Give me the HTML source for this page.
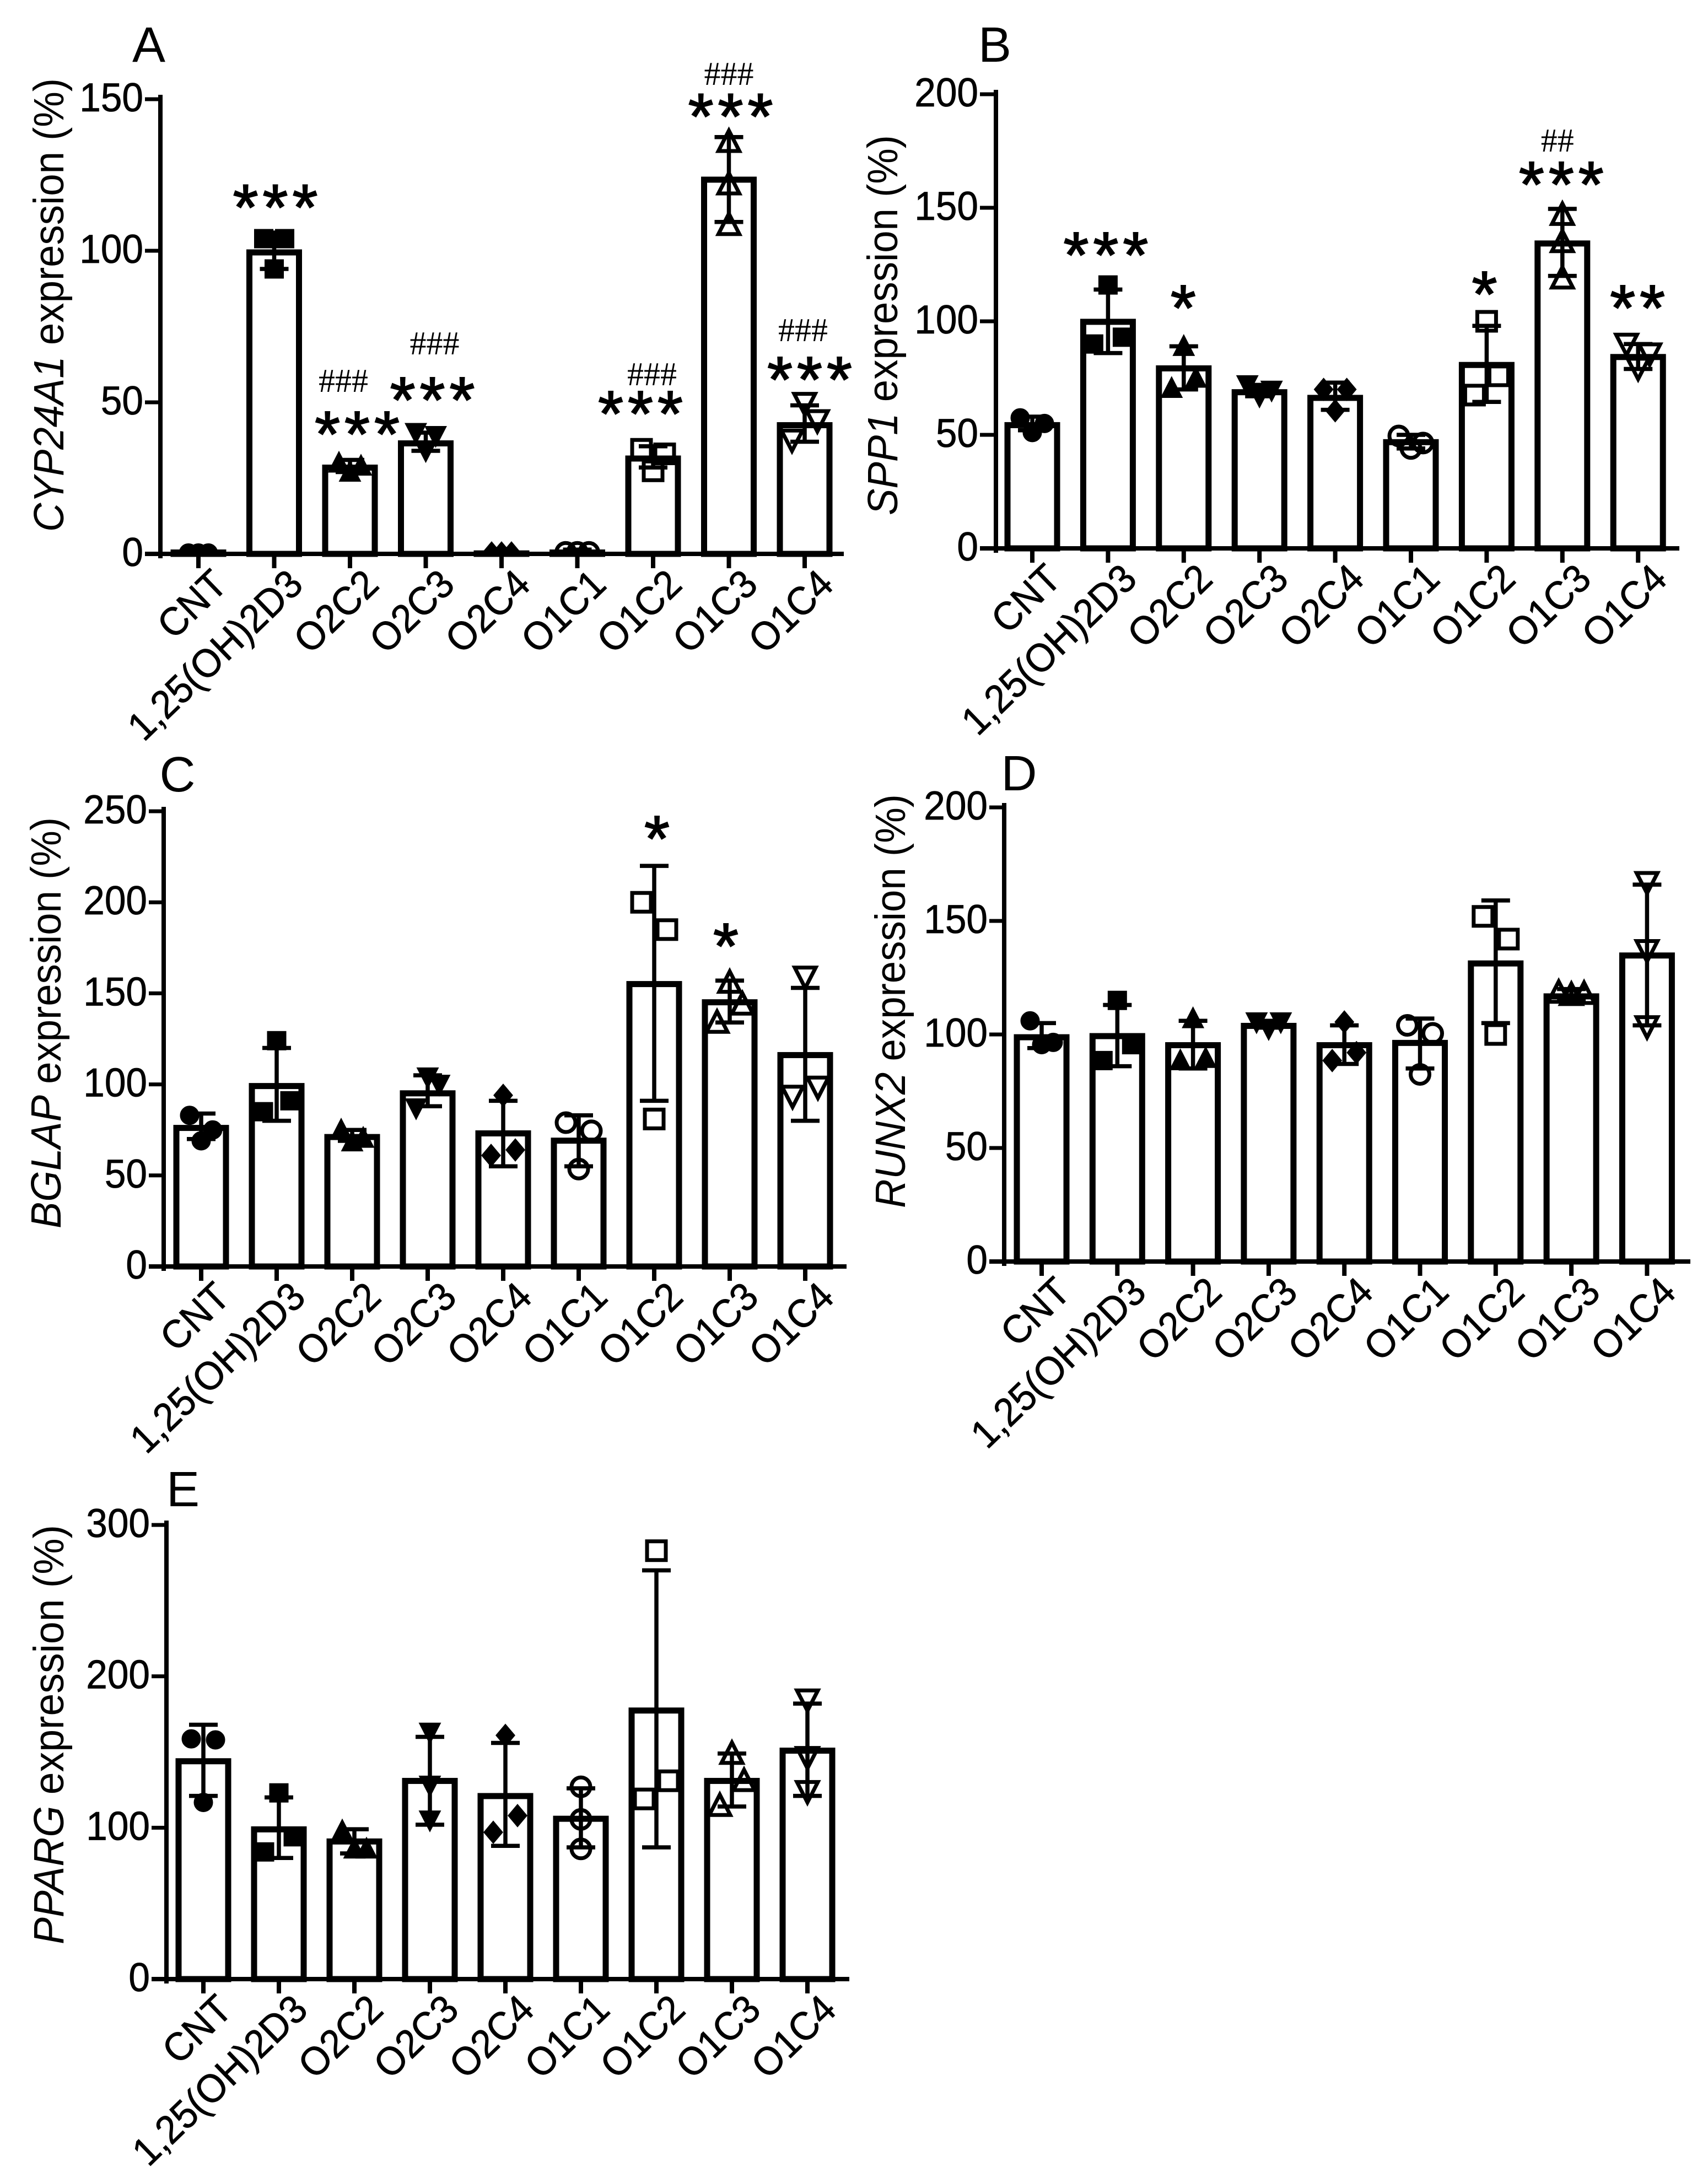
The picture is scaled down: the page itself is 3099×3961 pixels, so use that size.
<!DOCTYPE html>
<html>
<head>
<meta charset="utf-8">
<title>Gene expression bar charts</title>
<style>
html,body{margin:0;padding:0;background:#fff;}
svg{display:block;}
text{font-family:"Liberation Sans",sans-serif;fill:#000;}
</style>
</head>
<body>
<svg id="figure" xmlns="http://www.w3.org/2000/svg" width="3099" height="3961" viewBox="0 0 3099 3961">
<defs id="clips"></defs>
</svg>
<script>
const categories = ['CNT','1,25(OH)2D3','O2C2','O2C3','O2C4','O1C1','O1C2','O1C3','O1C4'];

const aTicks = [0,50,100,150];
const aMeans = [1,100,29,37,0.7,1,32,124,43];
const aErrLow = [0.7,94,27,34,0.4,0.8,28.5,109.5,37];
const aErrHigh = [1.3,106,31,40,1,1.4,35.5,137.5,49];
const aPoints = [[0.3,0.3,0.3],[104,104,94],[30,29,27],[40,39,34],[0.3,0.3,0.3],[0.5,0.5,0.5],[34.5,33,27.4],[136,122,108.6],[49.7,44,37.6]];
const aSides = [[-1,1,0],[-1,1,0],[-1,1,0],[-1,1,0],[-1,1,0],[-1,1,0],[-1,1,0],[0,0,0],[0,1,-1]];
const aStars = ['','***','***','***','','','***','***','***'];
const aStarLevels = [0,117,42.2,53.5,0,0,48.9,147,60.2];
const aHashes = ['','','###','###','','','###','###','###'];
const aHashLevels = [0,0,56.9,69.3,0,0,59.1,158.2,73.6];

const bTicks = [0,50,100,150,200];
const bMeans = [55,100.5,80,69.5,67,47.5,81.5,135,85];
const bErrLow = [52,86,70,67,61,44,64.5,120,79];
const bErrHigh = [58,114,89,72,73,50,98,149.5,90];
const bPoints = [[57.5,55,51],[116,90,93],[89,70.5,75],[72,69.6,67],[70,70,60.6],[49.5,46.4,44],[100,76,67.5],[147,135,119],[90,85.7,79.4]];
const bSides = [[-1,1,0],[0,-1,1],[0,-1,1],[-1,1,0],[-1,1,0],[-1,1,0],[0,1,-1],[0,0,0],[-1,1,0]];
const bStars = ['','***','*','','','','*','***','**'];
const bStarLevels = [0,132.8,109.5,0,0,0,115.5,163.8,109.5];
const bHashes = ['','','','','','','','##',''];
const bHashLevels = [0,0,0,0,0,0,0,179.4,0];

const cTicks = [0,50,100,150,200,250];
const cMeans = [77,100,72,96,74,70,156,146,117];
const cErrLow = [70,80,69,88,55,55,91,134,80];
const cErrHigh = [84,120,75,105,91,83,220,157,153];
const cPoints = [[83,75,69],[124,85,91],[75,70.5,68.5],[87,100,104],[94,61,64],[79,74.5,53.5],[200,185,81],[156,144,134],[159,98.6,93.6]];
const cSides = [[-1,1,0],[0,-1,1],[-1,1,0],[-1,1,0],[0,-1,1],[-1,1,0],[-1,1,0],[0,1,-1],[0,1,-1]];
const cStars = ['','','','','','','*','*',''];
const cStarLevels = [0,0,0,0,0,0,239.4,180.4,0];

const dTicks = [0,50,100,150,200];
const dMeans = [99.5,100,96,104.5,96,97,132,117.5,135.5];
const dErrLow = [94,86,85,103,87,85,105,115,104];
const dErrHigh = [105,113,106,106,104,107,159,120,166];
const dPoints = [[106,96.5,95.5],[115,88.5,95.5],[107,88.5,89.5],[105.5,105.5,102.5],[105.5,88.5,92],[104,100.5,82.4],[152,142,100],[118.5,117.5,118],[167,137,103.5]];
const dSides = [[-1,1,0],[0,-1,1],[0,-1,1],[-1,1,0],[0,-1,1],[-1,1,0],[-1,1,0],[-1,0,1],[0,0,0]];

const eTicks = [0,100,200,300];
const eMeans = [145,100,92,132,122,107,178.5,132,152];
const eErrLow = [121,80,83,102,88,87,87,114,121];
const eErrHigh = [168,120,99,160,156,126,270,149,182];
const ePoints = [[158.7,158,116.7],[123,84,94],[98,86,86],[163,128,105],[161,97,108],[127,105.5,86],[283,131,119],[149,131,114.6],[184.5,146.5,124]];
const eSides = [[-1,1,0],[0,-1,1],[-1,1,0],[0,0,0],[0,-1,1],[0,0,0],[0,1,-1],[0,1,-1],[0,0,0]];

const panels = [
 {id:'a',letter:'A',gene:'CYP24A1',ticks:aTicks,means:aMeans,low:aErrLow,high:aErrHigh,points:aPoints,sides:aSides,stars:aStars,starLevels:aStarLevels,hashes:aHashes,hashLevels:aHashLevels,
  layout:{axisX:291,left:263,right:1531,zeroY:1005,topY:180,firstX:360,stepX:137.5,barW:101,letterX:270,letterY:112,titleX:115,titleTop:142,titleBottom:965,
   spread:[18,19,20,18,18,21,21,22,23],starNudge:[0,2,13,12,0,0,-23,3,9],hashNudge:[0,0,-12,16,0,0,-2,0,-3]}},
 {id:'b',letter:'B',gene:'SPP1',ticks:bTicks,means:bMeans,low:bErrLow,high:bErrHigh,points:bPoints,sides:bSides,stars:bStars,starLevels:bStarLevels,hashes:bHashes,hashLevels:bHashLevels,
  layout:{axisX:1807,left:1778,right:3047,zeroY:995,topY:171,firstX:1873,stepX:137.4,barW:101,letterX:1805,letterY:112,titleX:1628,titleTop:245,titleBottom:935,
   spread:[22,26,22,22,21,22,22,22,21],starNudge:[0,-4,-1,0,0,0,-4,-2,-1],hashNudge:[0,0,0,0,0,0,0,-9,0]}},
 {id:'c',letter:'C',gene:'BGLAP',ticks:cTicks,means:cMeans,low:cErrLow,high:cErrHigh,points:cPoints,sides:cSides,stars:cStars,starLevels:cStarLevels,hashes:[],hashLevels:[],
  layout:{axisX:297,left:270,right:1536,zeroY:2298,topY:1472,firstX:365,stepX:137,barW:101,letterX:322,letterY:1436,titleX:110,titleTop:1483,titleBottom:2229,
   spread:[21,24,20,21,22,23,23,23,23],starNudge:[0,0,0,0,0,0,5,-7,0],hashNudge:[0,0,0,0,0,0,0,0,0]}},
 {id:'d',letter:'D',gene:'RUNX2',ticks:dTicks,means:dMeans,low:dErrLow,high:dErrHigh,points:dPoints,sides:dSides,stars:[],starLevels:[],hashes:[],hashLevels:[],
  layout:{axisX:1822,left:1795,right:3067,zeroY:2289,topY:1465,firstX:1890,stepX:137.3,barW:101,letterX:1849,letterY:1434,titleX:1642,titleTop:1441,titleBottom:2192,
   spread:[21,26,23,22,22,23,23,23,22],starNudge:[0,0,0,0,0,0,0,0,0],hashNudge:[0,0,0,0,0,0,0,0,0]}},
 {id:'e',letter:'E',gene:'PPARG',ticks:eTicks,means:eMeans,low:eErrLow,high:eErrHigh,points:ePoints,sides:eSides,stars:[],starLevels:[],hashes:[],hashLevels:[],
  layout:{axisX:302,left:275,right:1541,zeroY:3591,topY:2767,firstX:369,stepX:137,barW:101,letterX:332,letterY:2733,titleX:115,titleTop:2767,titleBottom:3528,
   spread:[22,26,22,22,22,22,22,22,22],starNudge:[0,0,0,0,0,0,0,0,0],hashNudge:[0,0,0,0,0,0,0,0,0]}}
];

const NS = 'http://www.w3.org/2000/svg';
const root = document.getElementById('figure');
const clips = document.getElementById('clips');
const markerKinds = ['circle','square','up','down','diamond','circle','square','up','down'];

function node(tag, parent, attrs){
  const n = document.createElementNS(NS, tag);
  for (const k in attrs) n.setAttribute(k, attrs[k]);
  parent.appendChild(n);
  return n;
}

function markerShape(group, kind, x, y){
  const filled = kind < 5;
  const r = filled ? 16 : 17;
  const style = filled ? {fill:'#000',stroke:'#000','stroke-width':3} : {fill:'none',stroke:'#000','stroke-width':7};
  const shape = markerKinds[kind];
  if (shape === 'circle') return node('circle', group, Object.assign({cx:x,cy:y,r:r},style));
  if (shape === 'square') return node('rect', group, Object.assign({x:x-r,y:y-r,width:2*r,height:2*r},style));
  let pts;
  if (shape === 'up') pts = [[x,y-r-3],[x+r+2,y+r],[x-r-2,y+r]];
  else if (shape === 'down') pts = [[x,y+r+3],[x+r+2,y-r],[x-r-2,y-r]];
  else pts = [[x,y-r-3],[x+r,y],[x,y+r+3],[x-r,y]];
  return node('polygon', group, Object.assign({points:pts.map(p=>p.join(',')).join(' ')},style));
}

panels.forEach(function(p){
  const L = p.layout;
  const yScale = v => L.zeroY - (v / p.ticks[p.ticks.length-1]) * (L.zeroY - L.topY);
  const xScale = i => L.firstX + i * L.stepX;

  const clip = node('clipPath', clips, {id:'plot-clip-'+p.id});
  node('rect', clip, {x:L.axisX,y:L.topY-200,width:L.right-L.axisX,height:L.zeroY-L.topY+200});

  const panel = node('g', root, {});
  
  

  const letter = node('text', panel, {x:L.letterX,y:L.letterY,'font-size':90,'text-anchor':'middle'});
  
  
  letter.textContent = p.letter;

  const title = node('text', panel, {transform:'translate('+L.titleX+','+L.titleBottom+') rotate(-90)','font-size':77,textLength:L.titleBottom-L.titleTop,lengthAdjust:'spacingAndGlyphs'});
  
  
  const gene = node('tspan', title, {'font-style':'italic'});
  gene.textContent = p.gene;
  const rest = node('tspan', title, {});
  rest.textContent = ' expression (%)';

  // bars
  p.means.forEach(function(v,i){
    const w = L.barW - 11;
    const top = yScale(v) + 3;
    const bar = node('rect', panel, {x:xScale(i)-w/2,y:top,width:w,height:Math.max(0,L.zeroY-top),fill:'none',stroke:'#000','stroke-width':11});
    
    
  });

  // error bars
  p.means.forEach(function(v,i){
    const x = xScale(i), y1 = yScale(p.low[i]), y2 = yScale(p.high[i]);
    const err = node('path', panel, {d:'M'+x+' '+y1+'V'+y2+'M'+(x-26)+' '+y1+'H'+(x+26)+'M'+(x-26)+' '+y2+'H'+(x+26),fill:'none',stroke:'#000','stroke-width':7.5});
    
    
  });

  // data points
  const pointLayer = node('g', panel, {'clip-path':'url(#plot-clip-'+p.id+')'});
  
  
  p.points.forEach(function(vals,i){
    vals.forEach(function(v,j){
      const m = markerShape(pointLayer, i, xScale(i) + p.sides[i][j] * L.spread[i], yScale(v));
      
      
    });
  });

  // axes
  const yAxis = node('line', panel, {x1:L.axisX,x2:L.axisX,y1:L.topY-8,y2:L.zeroY+8,stroke:'#000','stroke-width':8});
  
  
  const xAxis = node('line', panel, {x1:L.left,x2:L.right,y1:L.zeroY,y2:L.zeroY,stroke:'#000','stroke-width':8});
  
  

  p.ticks.forEach(function(t){
    const y = yScale(t);
    const mark = node('line', panel, {x1:L.left,x2:L.axisX,y1:y,y2:y,stroke:'#000','stroke-width':7});
    
    
    const lab = node('text', panel, {transform:'translate('+(L.left-3)+','+(y+22)+') scale(.95,1)','font-size':73,'text-anchor':'end',stroke:'#000','stroke-width':0.8});
    
    
    lab.textContent = t;
  });

  categories.forEach(function(c,i){
    const x = xScale(i);
    const mark = node('line', panel, {x1:x,x2:x,y1:L.zeroY,y2:L.zeroY+26,stroke:'#000','stroke-width':8});
    
    
    const lab = node('text', panel, {transform:'translate('+(x+56)+','+(L.zeroY+60)+') rotate(-44) scale(.95,1)','font-size':72,'text-anchor':'end',stroke:'#000','stroke-width':0.8});
    
    
    lab.textContent = c;
  });

  // significance marks
  p.stars.forEach(function(s,i){
    if (!s) return;
    const st = node('text', panel, {x:xScale(i)+L.starNudge[i]+4,y:yScale(p.starLevels[i])+55,'font-size':118,'text-anchor':'middle','letter-spacing':8,stroke:'#000','stroke-width':2});
    
    
    st.textContent = s;
  });
  p.hashes.forEach(function(s,i){
    if (!s) return;
    const h = node('text', panel, {x:xScale(i)+L.hashNudge[i],y:yScale(p.hashLevels[i])+19,'font-size':60,'text-anchor':'middle',style:'font-family:"Liberation Serif",serif'});
    
    
    h.textContent = s;
  });
});
</script>
</body>
</html>
